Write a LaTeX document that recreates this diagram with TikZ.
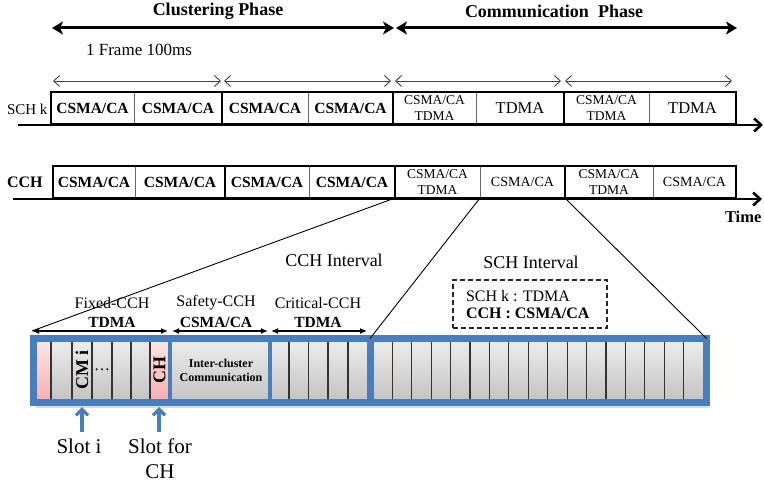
\documentclass[tikz,border=0pt]{standalone}
\usepackage{fontspec}
\setmainfont{Liberation Serif}
\usetikzlibrary{arrows.meta}
\definecolor{barblue}{RGB}{74,126,187}
\definecolor{slottop}{RGB}{236,236,236}
\definecolor{slotbot}{RGB}{196,196,196}
\definecolor{pinktop}{RGB}{255,228,228}
\definecolor{pinkbot}{RGB}{246,176,176}
\begin{document}
\begin{tikzpicture}[x=1pt,y=-1pt,
  every node/.style={inner sep=0pt,outer sep=0pt},
  cell/.style={rectangle,anchor=north west,minimum height=32pt},
  boldcell/.style={cell,font=\fontsize{15.5}{17}\selectfont\bfseries},
  twoline/.style={cell,align=center,font=\fontsize{13.5}{15.5}\selectfont},
  plaincell/.style={cell,font=\fontsize{14}{16}\selectfont},
  tdmacell/.style={cell,font=\fontsize{16.5}{18}\selectfont},
  divider/.style={draw=black!60,line width=1pt},
  framebox/.style={draw=black,line width=2.6pt},
  axis/.style={line width=2.6pt,-{Straight Barb[length=7pt,width=13pt]}},
  phasearrow/.style={line width=3pt,{Stealth[length=11pt,width=13pt,inset=3pt]}-{Stealth[length=11pt,width=13pt,inset=3pt]}},
  framearrow/.style={draw=black!75,line width=0.9pt,{Straight Barb[length=6pt,width=11pt]}-{Straight Barb[length=6pt,width=11pt]}},
  secarrow/.style={line width=1.3pt,{Latex[length=7pt,width=6pt]}-{Latex[length=7pt,width=6pt]}},
  connector/.style={draw=black,line width=0.9pt},
  seclabel/.style={font=\fontsize{16}{18}\selectfont},
  secmode/.style={font=\fontsize{15.5}{17}\selectfont\bfseries},
  slotline/.style={draw=black!80,line width=1.2pt},
  bluebox/.style={rectangle,anchor=north west,draw=barblue,line width=7pt,minimum height=64pt},
  pointer/.style={draw=barblue,line width=3.2pt,-{Straight Barb[length=6pt,width=12pt]}},
  bigcaption/.style={font=\fontsize{21}{25}\selectfont,align=center}
]
\useasboundingbox (0,0) rectangle (764,484);

% ---------- phases ----------
\node[font=\fontsize{18}{20}\selectfont\bfseries] (clus) at (218,11) {Clustering Phase};
\node[font=\fontsize{18}{20}\selectfont\bfseries] (comm) at (554,11) {Communication\ \ Phase};
\coordinate (phL) at (52,28);
\coordinate (phM) at (395,28);
\coordinate (phR) at (737,28);
\draw[phasearrow] (phL) -- ([xshift=-1pt]phM);
\draw[phasearrow] ([xshift=1pt]phM) -- (phR);

\node[font=\fontsize{17}{19}\selectfont] (frame) at (139,50) {1 Frame 100ms};

% frame spans
\coordinate (f0) at (53,81);  \coordinate (f1a) at (221,81);
\coordinate (f1b) at (224,81); \coordinate (f2a) at (391,81);
\coordinate (f2b) at (395,81); \coordinate (f3a) at (561,81);
\coordinate (f3b) at (565,81); \coordinate (f4) at (732,81);
\draw[framearrow] (f0) -- (f1a);
\draw[framearrow] (f1b) -- (f2a);
\draw[framearrow] (f2b) -- (f3a);
\draw[framearrow] (f3b) -- (f4);

% ---------- SCH k channel ----------
\node[anchor=west,font=\fontsize{15}{17}\selectfont] (schlbl) at (7,109) {SCH k};
\node[boldcell,minimum width=83] (s1) at (51,92) {CSMA/CA};
\node[boldcell,minimum width=88] (s2) at (134,92) {CSMA/CA};
\node[boldcell,minimum width=86] (s3) at (222,92) {CSMA/CA};
\node[boldcell,minimum width=85] (s4) at (308,92) {CSMA/CA};
\node[twoline,minimum width=83] (s5) at (393,92) {CSMA/CA\\TDMA};
\node[tdmacell,minimum width=88] (s6) at (476,92) {TDMA};
\node[twoline,minimum width=85] (s7) at (564,92) {CSMA/CA\\TDMA};
\node[tdmacell,minimum width=87] (s8) at (649,92) {TDMA};
\foreach \c in {s1,s3,s5,s7}
  \draw[divider] (\c.north east) -- (\c.south east);
\draw[framebox] (s1.north west) rectangle (s2.south east);
\draw[framebox] (s3.north west) rectangle (s4.south east);
\draw[framebox] (s5.north west) rectangle (s6.south east);
\draw[framebox] (s7.north west) rectangle (s8.south east);
\coordinate (schaxL) at (18,125);
\coordinate (schaxR) at (763,125);
\draw[axis] (schaxL) -- (schaxR);

% ---------- CCH channel ----------
\node[anchor=west,font=\fontsize{16}{18}\selectfont\bfseries] (cchlbl) at (7,182) {CCH};
\node[boldcell,minimum width=82] (c1) at (53,166) {CSMA/CA};
\node[boldcell,minimum width=90] (c2) at (135,166) {CSMA/CA};
\node[boldcell,minimum width=84] (c3) at (225,166) {CSMA/CA};
\node[boldcell,minimum width=86] (c4) at (309,166) {CSMA/CA};
\node[twoline,minimum width=85] (c5) at (395,166) {CSMA/CA\\TDMA};
\node[plaincell,minimum width=85] (c6) at (480,166) {CSMA/CA};
\node[twoline,minimum width=88] (c7) at (565,166) {CSMA/CA\\TDMA};
\node[plaincell,minimum width=83] (c8) at (653,166) {CSMA/CA};
\foreach \c in {c1,c3,c5,c7}
  \draw[divider] (\c.north east) -- (\c.south east);
\draw[framebox] (c1.north west) rectangle (c2.south east);
\draw[framebox] (c3.north west) rectangle (c4.south east);
\draw[framebox] (c5.north west) rectangle (c6.south east);
\draw[framebox] (c7.north west) rectangle (c8.south east);
\coordinate (cchaxL) at (13,199);
\coordinate (cchaxR) at (762,199);
\draw[axis] (cchaxL) -- (cchaxR);
\node[anchor=west,font=\fontsize{16.5}{18}\selectfont\bfseries] (time) at (725,217) {Time};

% ---------- interval labels ----------
\node[font=\fontsize{18}{20}\selectfont] (cchint) at (334,260) {CCH Interval};
\node[font=\fontsize{18}{20}\selectfont] (schint) at (531,262) {SCH Interval};
\node[rectangle,anchor=north west,draw=black!85,line width=1.3pt,dash pattern=on 5pt off 3pt,
      minimum width=154,minimum height=48] (modebox) at (453,280) {};
\node[anchor=west,font=\fontsize{16}{18}\selectfont] (modesch) at (466,296) {SCH k : TDMA};
\node[anchor=west,font=\fontsize{16}{18}\selectfont\bfseries] (modecch) at (466,313) {CCH : CSMA/CA};

% section headings
\node[seclabel] (fixedlbl) at (112,303) {Fixed-CCH};
\node[secmode] (fixedmode) at (112,322) {TDMA};
\node[seclabel] (safelbl) at (216,303) {Safety-CCH};
\node[secmode] (safemode) at (216,322) {CSMA/CA};
\node[seclabel] (critlbl) at (318,303) {Critical-CCH};
\node[secmode] (critmode) at (318,322) {TDMA};
\coordinate (fixL) at (32,331);  \coordinate (fixR) at (168,331);
\coordinate (safL) at (172,331); \coordinate (safR) at (268,331);
\coordinate (criL) at (271,331); \coordinate (criR) at (367,331);
\draw[secarrow] (fixL) -- (fixR);
\draw[secarrow] (safL) -- (safR);
\draw[secarrow] (criL) -- (criR);

% ---------- slot bar ----------
\fill[black!14] (36,341) rectangle (708.5,407.8);
\shade[top color=slottop,bottom color=slotbot] (37,342) rectangle (703,399);
\shade[top color=pinktop,bottom color=pinkbot] (37,342) rectangle (51,399);
\shade[top color=pinktop,bottom color=pinkbot] (150,342) rectangle (168,399);
\foreach \x in {51,72,92,112,131,150,289,308.5,328,348}
  \draw[slotline] (\x,342) -- (\x,399);
\foreach \k in {1,...,16}
  \draw[slotline] ({373+\k*19.41},342) -- ({373+\k*19.41},399);

\node[rotate=90,font=\fontsize{18}{20}\selectfont\bfseries] (cmi) at (82,370) {CM i};
\node[font=\fontsize{16}{18}\selectfont] (dots) at (102,370) {…};
\node[rotate=90,font=\fontsize{18}{20}\selectfont\bfseries] (chslot) at (159.5,370) {CH};
\node[align=center,font=\fontsize{12}{14}\selectfont\bfseries] (inter) at (221,370) {Inter-cluster\\Communication};

\node[bluebox,minimum width=336.5] (cchblk) at (33.5,338.5) {};
\node[bluebox,minimum width=336.5] (schblk) at (370,338.5) {};
\draw[draw=barblue,line width=4.5pt] (170,338.5) -- (170,402.5);
\draw[draw=barblue,line width=4.5pt] (270,338.5) -- (270,402.5);

% ---------- zoom connectors ----------
\draw[connector] (c5.south west) -- (fixL);
\draw[connector] (c6.south west) -- (schblk.north west);
\draw[connector] (c7.south west) -- (schblk.north east);

% ---------- slot pointers ----------
\coordinate (p1) at (82,432);  \coordinate (t1) at (82,407);
\coordinate (p2) at (159,432); \coordinate (t2) at (159,407);
\draw[pointer] (p1) -- (t1);
\draw[pointer] (p2) -- (t2);
\node[bigcaption] (sloti) at (79,446) {Slot i};
\node[bigcaption] (slotch) at (160,459) {Slot for\\CH};
\end{tikzpicture}
\end{document}
